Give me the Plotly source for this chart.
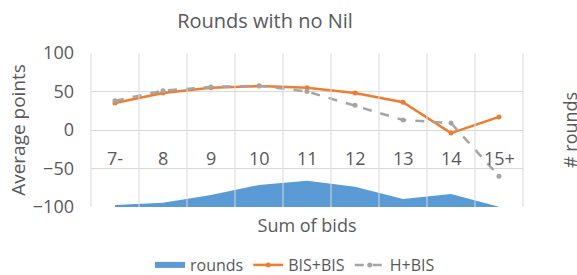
import plotly.graph_objects as go

categories = ["7-", "8", "9", "10", "11", "12", "13", "14", "15+"]
bis_bis = [35, 48, 55, 57, 55, 48, 36, -4, 17]
h_bis = [38, 51, 56, 57.5, 50, 32, 13, 9, -60]
rounds = [130, 280, 780, 1430, 1710, 1320, 520, 840, 20]

TXT = "#595959"
GRID = "#D9D9D9"
FONT = "Open Sans"

fig = go.Figure()
fig.add_trace(go.Scatter(
    x=categories, y=rounds, name="rounds", yaxis="y2",
    mode="none", fill="tozeroy", fillcolor="#5B9BD5",
))
fig.add_trace(go.Scatter(
    x=categories, y=bis_bis, name="BIS+BIS", mode="lines+markers",
    line=dict(color="#ED7D31", width=2.5), marker=dict(size=5, color="#ED7D31"),
))
fig.add_trace(go.Scatter(
    x=categories, y=h_bis, name="H+BIS", mode="lines+markers",
    line=dict(color="#A5A5A5", width=2.5, dash="dash"), marker=dict(size=5, color="#A5A5A5"),
))

# category labels sit next to the y=0 line, as in the original
for i, c in enumerate(categories):
    fig.add_annotation(x=i, y=0, text=c, showarrow=False, yanchor="middle",
                       yshift=-28, font=dict(size=18, color=TXT, family=FONT))

# secondary axis title
fig.add_annotation(text="# rounds", xref="paper", yref="paper", x=(570 - 91) / 432, y=0.5,
                   textangle=-90, showarrow=False, xanchor="center", yanchor="middle",
                   font=dict(size=18, color=TXT, family=FONT))

# vertical gridlines on category boundaries (fractions of the x domain)
n = len(categories)
for i in range(n + 1):
    fig.add_shape(type="line", xref="x domain", yref="y domain", x0=i / n, x1=i / n,
                  y0=0, y1=1, line=dict(color=GRID, width=1), layer="above")

fig.update_layout(
    width=577, height=275,
    margin=dict(l=91, r=54, t=53, b=68),
    paper_bgcolor="white", plot_bgcolor="rgba(0,0,0,0)",
    font=dict(family=FONT, color=TXT, size=16),
    title=dict(text="Rounds with no Nil", x=265 / 577, xref="container", xanchor="center",
               y=1 - 21 / 275, yref="container", yanchor="middle",
               font=dict(size=20, color=TXT, family=FONT)),
    xaxis=dict(type="category", range=[-0.5, 8.5], showticklabels=False, showgrid=False,
               zeroline=False, ticks="", automargin=False,
               title=dict(text="Sum of bids", standoff=12, font=dict(size=18, color=TXT))),
    yaxis=dict(range=[-100, 100], tickvals=[-100, -50, 0, 50, 100], showgrid=True,
               gridcolor=GRID, zeroline=False, ticks="", automargin=False,
               ticklabelstandoff=16,
               tickfont=dict(size=18, color=TXT),
               title=dict(text="Average points", font=dict(size=19, color=TXT), standoff=2)),
    yaxis2=dict(overlaying="y", side="right", range=[0, 10000], showticklabels=False,
                showgrid=False, zeroline=False, ticks="", automargin=False),
    legend=dict(orientation="h", xref="container", yref="container",
                x=295 / 577, xanchor="center", y=1 - 265 / 275, yanchor="middle",
                font=dict(size=16, color=TXT), itemwidth=30, traceorder="normal"),
    showlegend=True,
)

fig.write_html("out.html", config={"displayModeBar": False},
               post_script="document.body.style.margin='0';document.body.style.overflow='hidden';")
